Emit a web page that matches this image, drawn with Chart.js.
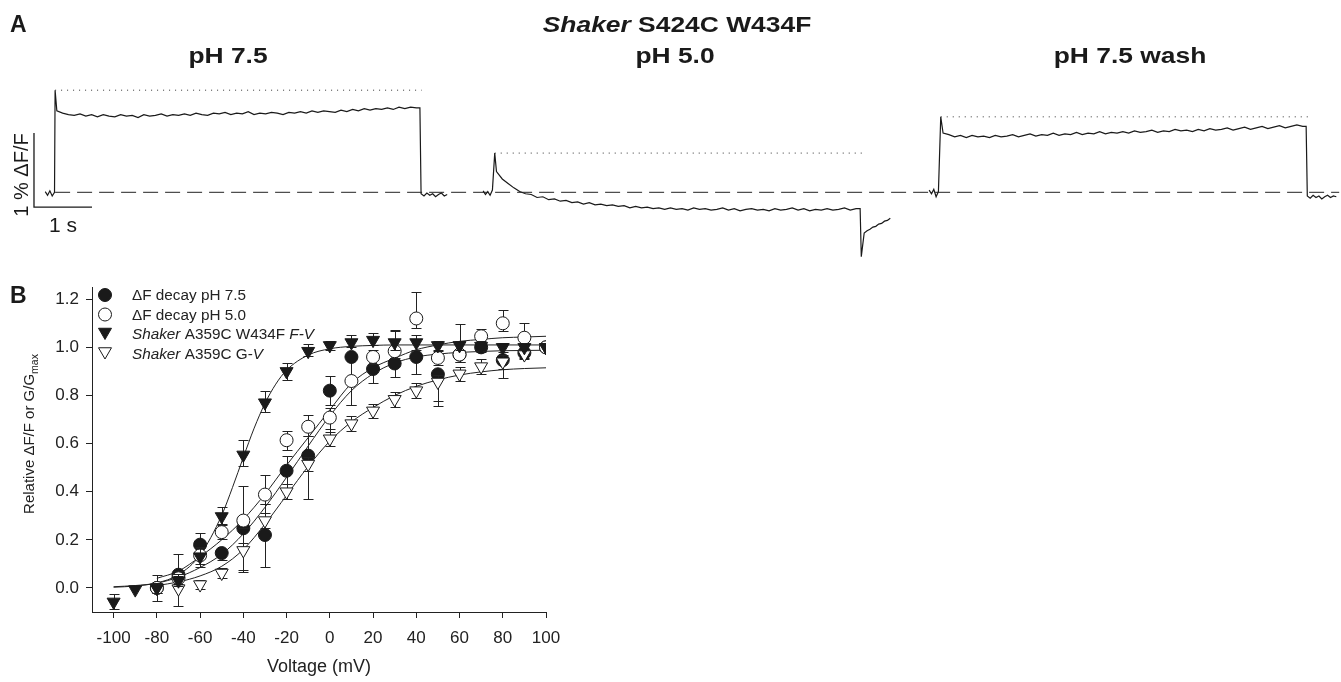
<!DOCTYPE html>
<html>
<head>
<meta charset="utf-8">
<title>Shaker S424C W434F</title>
<script src="https://cdn.jsdelivr.net/npm/chart.js@4.4.1/dist/chart.umd.min.js"></script>
<style>
  html, body { margin: 0; padding: 0; background: #fff; }
  body { width: 1341px; height: 682px; position: relative; overflow: hidden; }
  .box { position: absolute; }
</style>
</head>
<body>
<div class="box" style="left:0;top:0;width:1341px;height:270px"><canvas id="traces"></canvas></div>
<div class="box" style="left:0;top:270px;width:600px;height:412px"><canvas id="fv"></canvas></div>
<script>
const FONT = '"Liberation Sans", Arial, Helvetica, sans-serif';
const INK = '#1a1a1a';

// ---- Panel A: fluorescence traces (time in s, signal in % dF/F) ----
const conditions = ['pH 7.5', 'pH 5.0', 'pH 7.5 wash'];
const preStart = [0.78, 8.33, 16.02];
const stepOn = [0.95, 8.53, 16.22];
const plateauStart = [0.98, 8.56, 16.26];
const stepOff = [7.24, 14.83, 22.52];
const peakLevel = [1.38, 0.53, 1.02];

const trace75Pre = [0.01, -0.04, 0.02, -0.05, 0.00];
const trace75Plateau = [
  1.10, 1.07, 1.05, 1.04, 1.06, 1.03, 1.05, 1.02, 1.05, 1.03,
  1.02, 1.05, 1.03, 1.04, 1.01, 1.05, 1.03, 1.04, 1.06, 1.03,
  1.05, 1.04, 1.06, 1.04, 1.07, 1.05, 1.04, 1.07, 1.06, 1.08,
  1.05, 1.07, 1.06, 1.09, 1.05, 1.07, 1.06, 1.08, 1.07, 1.05,
  1.08, 1.07, 1.09, 1.07, 1.10, 1.08, 1.10, 1.09, 1.08, 1.11,
  1.09, 1.12, 1.10, 1.13, 1.11, 1.13, 1.12, 1.14, 1.12, 1.15,
  1.13, 1.15, 1.14];
const trace75Post = [-0.02, -0.05, -0.01, -0.04, -0.02, -0.06, -0.03, -0.01, -0.05, -0.03];

const trace50Pre = [0.02, -0.03, 0.01, -0.04, 0.03];
const trace50Plateau = [
  0.28, 0.18, 0.12, 0.06, 0.01, -0.02, -0.03, -0.07, -0.06, -0.10,
  -0.09, -0.12, -0.11, -0.14, -0.13, -0.16, -0.14, -0.17, -0.16, -0.18,
  -0.17, -0.19, -0.18, -0.21, -0.19, -0.21, -0.20, -0.22, -0.21, -0.23,
  -0.21, -0.23, -0.22, -0.24, -0.21, -0.23, -0.22, -0.24, -0.23, -0.21,
  -0.24, -0.22, -0.25, -0.23, -0.22, -0.24, -0.23, -0.25, -0.22, -0.24,
  -0.23, -0.21, -0.24, -0.22, -0.25, -0.23, -0.24, -0.22, -0.24, -0.23,
  -0.21, -0.24, -0.22];
const trace50Post = [-0.87, -0.55, -0.52, -0.50, -0.47, -0.46, -0.43, -0.42, -0.39, -0.38, -0.35];

const traceWashPre = [0.03, -0.02, 0.04, -0.06, 0.01];
const traceWashPlateau = [
  0.80, 0.78, 0.75, 0.77, 0.74, 0.77, 0.75, 0.76, 0.74, 0.77,
  0.75, 0.76, 0.78, 0.75, 0.77, 0.79, 0.76, 0.78, 0.77, 0.80,
  0.77, 0.79, 0.78, 0.81, 0.78, 0.80, 0.79, 0.82, 0.79, 0.81,
  0.80, 0.82, 0.80, 0.83, 0.81, 0.82, 0.84, 0.81, 0.83, 0.82,
  0.85, 0.83, 0.84, 0.82, 0.85, 0.83, 0.86, 0.84, 0.85, 0.87,
  0.84, 0.86, 0.88, 0.85, 0.87, 0.89, 0.86, 0.88, 0.90, 0.87,
  0.89, 0.91, 0.89];
const traceWashPost = [-0.05, -0.08, -0.04, -0.07, -0.05, -0.09, -0.06, -0.04, -0.07, -0.05, -0.06];

const baselineSpan = [0.95, 23.09];
const peakLineEnd = [7.27, 14.86, 22.55];
const scaleBarTime = [0.586, 1.586];     // 1 s
const scaleBarSignal = [-0.2, 0.8];      // 1 %

// ---- Panel B: normalized dF decay and G-V vs voltage ----
const voltsFV = [-100, -90, -80, -70, -60, -50, -40, -30, -20, -10, 0, 10, 20, 30, 40, 50, 60, 70, 80, 90, 100];
const voltsDecay = [-80, -70, -60, -50, -40, -30, -20, -10, 0, 10, 20, 30, 40, 50, 60, 70, 80, 90, 100];

const decay75 = [0.00, 0.055, 0.18, 0.145, 0.248, 0.22, 0.487, 0.55, 0.82, 0.96, 0.91, 0.933, 0.96, 0.888, 0.97, 1.00, 0.947, 0.977, 1.00];
const decay75Up = [0, 0.085, 0.05, 0, 0, 0.13, 0.063, 0.08, 0.06, 0, 0.06, 0.05, 0, 0, 0, 0, 0, 0, 0];
const decay75Down = [0, 0.04, 0.05, 0.03, 0.175, 0.133, 0.057, 0.18, 0.06, 0.2, 0.06, 0.055, 0.07, 0.11, 0.03, 0.02, 0.075, 0.02, 0];

const decay50 = [0.00, 0.04, 0.135, 0.232, 0.28, 0.388, 0.614, 0.67, 0.708, 0.86, 0.96, 0.984, 1.12, 0.956, 0.97, 1.046, 1.10, 1.04, 1.00];
const decay50Up = [0.055, 0.03, 0.03, 0.03, 0.145, 0.08, 0.04, 0.05, 0.04, 0, 0.03, 0.09, 0.11, 0.03, 0.125, 0.03, 0.055, 0.06, 0];
const decay50Down = [0.055, 0.03, 0.05, 0.03, 0.03, 0.04, 0.04, 0.04, 0.06, 0.1, 0.03, 0.03, 0.04, 0.03, 0.03, 0.03, 0.03, 0.03, 0];

const fvW434F = [-0.058, -0.007, 0.00, 0.03, 0.13, 0.297, 0.553, 0.77, 0.90, 0.984, 1.008, 1.02, 1.03, 1.02, 1.02, 1.008, 1.008, 1.005, 1.00, 1.00, 1.00];
const fvW434FUp = [0.032, 0, 0.02, 0.02, 0.04, 0.04, 0.06, 0.05, 0.035, 0.03, 0.02, 0.03, 0.03, 0.05, 0.03, 0.02, 0.02, 0.02, 0.02, 0, 0];
const fvW434FDown = [0.03, 0, 0.02, 0.02, 0.03, 0.03, 0.045, 0.04, 0.035, 0.02, 0.02, 0.02, 0.02, 0.03, 0.03, 0.02, 0.02, 0.02, 0.02, 0, 0];

const gvA359C = [0.00, -0.003, 0.014, 0.062, 0.156, 0.28, 0.40, 0.515, 0.62, 0.683, 0.736, 0.784, 0.82, 0.856, 0.89, 0.92, 0.94, 0.97, 1.00];
const gvA359CUp = [0.02, 0.06, 0.02, 0.02, 0.03, 0.03, 0.03, 0.03, 0.04, 0.03, 0.03, 0.03, 0.03, 0.03, 0.03, 0.03, 0.03, 0.02, 0];
const gvA359CDown = [0.02, 0.07, 0.02, 0.02, 0.09, 0.03, 0.03, 0.03, 0.03, 0.03, 0.03, 0.03, 0.03, 0.1, 0.03, 0.03, 0.03, 0.02, 0];

// Boltzmann fit curves, read at these voltages
const fitVoltsFV = [-100, -90, -80, -70, -60, -50, -45, -40, -35, -30, -25, -20, -10, 0, 10, 20, 30, 40, 60, 80, 100];
const fitFV = [0.003, 0.008, 0.021, 0.055, 0.137, 0.302, 0.418, 0.543, 0.664, 0.767, 0.847, 0.905, 0.968, 0.994, 1.004, 1.008, 1.01, 1.01, 1.01, 1.01, 1.01];
const fitVolts75 = [-100, -90, -80, -70, -60, -50, -40, -30, -20, -10, 0, 10, 20, 30, 40, 50, 60, 70, 80, 90, 100];
const fit75 = [0.005, 0.01, 0.02, 0.045, 0.085, 0.14, 0.225, 0.335, 0.46, 0.59, 0.715, 0.82, 0.89, 0.935, 0.96, 0.972, 0.979, 0.983, 0.986, 0.987, 0.988];
const fitVolts50 = voltsDecay;
const fit50 = [0.04, 0.07, 0.13, 0.2, 0.285, 0.39, 0.51, 0.625, 0.74, 0.85, 0.915, 0.955, 0.99, 1.01, 1.025, 1.033, 1.04, 1.043, 1.046];
const fitVoltsGV = voltsDecay;
const fitGV = [0.01, 0.025, 0.05, 0.09, 0.16, 0.265, 0.385, 0.505, 0.61, 0.69, 0.75, 0.80, 0.838, 0.865, 0.885, 0.898, 0.907, 0.912, 0.915];

const xTicks = [-100, -80, -60, -40, -20, 0, 20, 40, 60, 80, 100];
const yTicks = [0, 0.2, 0.4, 0.6, 0.8, 1.0, 1.2];

const legendItems = [
  { runs: [['\u0394F decay pH 7.5', '']], style: 'circle', filled: true },
  { runs: [['\u0394F decay pH 5.0', '']], style: 'circle', filled: false },
  { runs: [['Shaker', 'italic '], [' A359C W434F ', ''], ['F-V', 'italic ']], style: 'triangle', filled: true },
  { runs: [['Shaker', 'italic '], [' A359C G-', ''], ['V', 'italic ']], style: 'triangle', filled: false }
];

// ---- helpers ----
// draws a line of mixed-style text; sx stretches it horizontally about its anchor
function drawRuns(ctx, runs, x, y, align, sx) {
  sx = sx || 1;
  let total = 0;
  runs.forEach(([t, f]) => { ctx.font = f; total += ctx.measureText(t).width; });
  ctx.save();
  ctx.translate(x, y);
  ctx.scale(sx, 1);
  let cx = align === 'center' ? -total / 2 : 0;
  ctx.textAlign = 'left';
  runs.forEach(([t, f]) => { ctx.font = f; ctx.fillText(t, cx, 0); cx += ctx.measureText(t).width; });
  ctx.restore();
}

function tracePoints(k, pre, plateau, post) {
  const pts = [];
  pre.forEach((v, i) => pts.push({ x: preStart[k] + i * 0.04, y: v }));
  pts.push({ x: stepOn[k], y: peakLevel[k] });
  plateau.forEach((v, i) => pts.push({ x: plateauStart[k] + i * 0.1, y: v }));
  pts.push({ x: stepOff[k], y: plateau[plateau.length - 1] });
  post.forEach((v, i) => pts.push({ x: stepOff[k] + 0.02 + i * 0.05, y: v }));
  return pts;
}

const xy = (xs, ys) => xs.map((x, i) => ({ x: x, y: ys[i] }));

const lineDefaults = { showLine: true, pointRadius: 0, borderColor: INK, borderWidth: 1, tension: 0, fill: false };

// ---- Panel A chart ----
const traceDatasets = [
  Object.assign({}, lineDefaults, {
    data: [{ x: baselineSpan[0], y: 0 }, { x: baselineSpan[1], y: 0 }],
    borderDash: [15, 7], borderColor: '#222'
  })
];
stepOn.forEach((t, k) => traceDatasets.push(Object.assign({}, lineDefaults, {
  data: [{ x: t, y: peakLevel[k] }, { x: peakLineEnd[k], y: peakLevel[k] }],
  borderDash: [1, 5], borderColor: '#333'
})));
[[trace75Pre, trace75Plateau, trace75Post],
 [trace50Pre, trace50Plateau, trace50Post],
 [traceWashPre, traceWashPlateau, traceWashPost]].forEach((t, k) =>
  traceDatasets.push(Object.assign({}, lineDefaults, { data: tracePoints(k, t[0], t[1], t[2]), borderWidth: 1.2 })));
traceDatasets.push(Object.assign({}, lineDefaults, {
  data: [{ x: scaleBarTime[0], y: scaleBarSignal[1] }, { x: scaleBarTime[0], y: scaleBarSignal[0] }, { x: scaleBarTime[1], y: scaleBarSignal[0] }],
  borderWidth: 1.3
}));

const traceLabels = {
  id: 'traceLabels',
  afterDraw(chart) {
    const ctx = chart.ctx;
    ctx.save();
    ctx.fillStyle = INK;
    ctx.textBaseline = 'alphabetic';
    drawRuns(ctx, [['A', 'bold 23px ' + FONT]], 10, 32, 'left');
    drawRuns(ctx, [['Shaker', 'italic bold 22px ' + FONT], [' S424C W434F', 'bold 22px ' + FONT]], 677, 32, 'center', 1.2);
    const cx = [228, 675, 1130];
    conditions.forEach((c, i) => drawRuns(ctx, [[c, 'bold 22px ' + FONT]], cx[i], 63, 'center', 1.2));
    drawRuns(ctx, [['1 s', '21px ' + FONT]], 63, 232, 'center');
    ctx.translate(28, 175);
    ctx.rotate(-Math.PI / 2);
    drawRuns(ctx, [['1 % \u0394F/F', '20px ' + FONT]], 0, 0, 'center');
    ctx.restore();
  }
};

new Chart(document.getElementById('traces'), {
  type: 'scatter',
  data: { datasets: traceDatasets },
  options: {
    responsive: true, maintainAspectRatio: false, animation: false, events: [],
    layout: { padding: 0 },
    plugins: { legend: { display: false }, tooltip: { enabled: false } },
    scales: {
      x: { type: 'linear', display: false, min: 0, max: 23.121 },
      y: { type: 'linear', display: false, min: -1.05, max: 2.599 }
    }
  },
  plugins: [traceLabels]
});

// ---- Panel B chart ----
function markerSet(label, volts, vals, up, down, style, filled, order) {
  return {
    label: label,
    data: xy(volts, vals),
    errUp: up, errDown: down,
    showLine: false,
    pointStyle: style,
    pointRadius: style === 'circle' ? 6.5 : 7.5,
    rotation: style === 'triangle' ? 180 : 0,
    pointBackgroundColor: filled ? INK : '#fff',
    pointBorderColor: INK,
    pointBorderWidth: 1,
    order: order
  };
}
function fitSet(volts, vals) {
  return Object.assign({}, lineDefaults, { data: xy(volts, vals), cubicInterpolationMode: 'monotone', borderColor: '#222', order: 10 });
}

const errorBars = {
  id: 'errorBars',
  beforeDatasetDraw(chart, args) {
    const ds = chart.data.datasets[args.index];
    if (!ds.errUp) return;
    const { ctx, scales: { x, y } } = chart;
    ctx.save();
    ctx.strokeStyle = '#222';
    ctx.lineWidth = 1;
    ds.data.forEach((p, i) => {
      const px = Math.round(x.getPixelForValue(p.x)) + 0.5;
      [[ds.errUp[i], 1], [ds.errDown[i], -1]].forEach(([e, s]) => {
        if (!e) return;
        const y0 = y.getPixelForValue(p.y);
        const y1 = Math.round(y.getPixelForValue(p.y + s * e)) + 0.5;
        ctx.beginPath();
        ctx.moveTo(px, y0); ctx.lineTo(px, y1);
        ctx.moveTo(px - 5, y1); ctx.lineTo(px + 5, y1);
        ctx.stroke();
      });
    });
    ctx.restore();
  }
};

function drawMarker(ctx, style, filled, x, y) {
  ctx.fillStyle = filled ? INK : '#fff';
  ctx.strokeStyle = INK;
  ctx.lineWidth = 1;
  ctx.beginPath();
  if (style === 'circle') {
    ctx.arc(x, y, 6.5, 0, Math.PI * 2);
  } else {
    const r = 7.5;
    for (let k = 0; k < 3; k++) {
      const a = Math.PI + k * 2 * Math.PI / 3;
      const vx = x + Math.sin(a) * r, vy = y - Math.cos(a) * r;
      k ? ctx.lineTo(vx, vy) : ctx.moveTo(vx, vy);
    }
    ctx.closePath();
  }
  ctx.fill();
  ctx.stroke();
}

const fvAnnotations = {
  id: 'fvAnnotations',
  afterDraw(chart) {
    const ctx = chart.ctx;
    ctx.save();
    ctx.textBaseline = 'alphabetic';
    ctx.fillStyle = INK;
    drawRuns(ctx, [['B', 'bold 23px ' + FONT]], 10, 33, 'left');
    legendItems.forEach((item, i) => {
      const cy = 25 + i * 19.5;
      drawMarker(ctx, item.style, item.filled, 105, item.style === 'triangle' ? cy - 2 : cy);
      ctx.fillStyle = '#222';
      drawRuns(ctx, item.runs.map(([t, f]) => [t, f + '15.3px ' + FONT]), 132, cy + 5, 'left');
    });
    ctx.fillStyle = '#222';
    ctx.translate(34, 164);
    ctx.rotate(-Math.PI / 2);
    const main = 'Relative \u0394F/F or G/G';
    ctx.font = '15px ' + FONT;
    const w1 = ctx.measureText(main).width;
    ctx.font = '10.5px ' + FONT;
    const w2 = ctx.measureText('max').width;
    ctx.textAlign = 'left';
    ctx.font = '15px ' + FONT;
    ctx.fillText(main, -(w1 + w2) / 2, 0);
    ctx.font = '10.5px ' + FONT;
    ctx.fillText('max', -(w1 + w2) / 2 + w1, 4);
    ctx.restore();
  }
};

new Chart(document.getElementById('fv'), {
  type: 'scatter',
  data: {
    datasets: [
      fitSet(fitVoltsFV, fitFV),
      fitSet(fitVolts75, fit75),
      fitSet(fitVolts50, fit50),
      fitSet(fitVoltsGV, fitGV),
      markerSet('dF decay pH 7.5', voltsDecay, decay75, decay75Up, decay75Down, 'circle', true, 4),
      markerSet('dF decay pH 5.0', voltsDecay, decay50, decay50Up, decay50Down, 'circle', false, 3),
      markerSet('Shaker A359C G-V', voltsDecay, gvA359C, gvA359CUp, gvA359CDown, 'triangle', false, 2),
      markerSet('Shaker A359C W434F F-V', voltsFV, fvW434F, fvW434FUp, fvW434FDown, 'triangle', true, 1)
    ]
  },
  options: {
    responsive: true, maintainAspectRatio: false, animation: false, events: [],
    layout: { padding: { left: 0, right: 54, top: 16, bottom: 0 } },
    plugins: { legend: { display: false }, tooltip: { enabled: false } },
    scales: {
      x: {
        type: 'linear', min: -110, max: 100,
        afterFit: s => { s.height = 70; },
        afterBuildTicks: s => { s.ticks = xTicks.map(v => ({ value: v })); },
        grid: { display: true, drawOnChartArea: false, drawTicks: true, tickLength: 6, color: '#222' },
        border: { display: true, color: '#222', width: 1 },
        ticks: { color: '#222', font: { family: FONT, size: 17 }, padding: 10, maxRotation: 0, autoSkip: false, callback: v => String(v) },
        title: { display: true, text: 'Voltage (mV)', color: '#222', font: { family: FONT, size: 18 }, padding: { top: 0, bottom: 4 } }
      },
      y: {
        type: 'linear', min: -0.1, max: 1.25,
        afterFit: s => { s.width = 92; },
        afterBuildTicks: s => { s.ticks = yTicks.map(v => ({ value: v })); },
        grid: { display: true, drawOnChartArea: false, drawTicks: true, tickLength: 6, color: '#222' },
        border: { display: true, color: '#222', width: 1 },
        ticks: { color: '#222', font: { family: FONT, size: 17 }, padding: 7, autoSkip: false, callback: v => v.toFixed(1) }
      }
    }
  },
  plugins: [errorBars, fvAnnotations]
});
</script>
</body>
</html>
